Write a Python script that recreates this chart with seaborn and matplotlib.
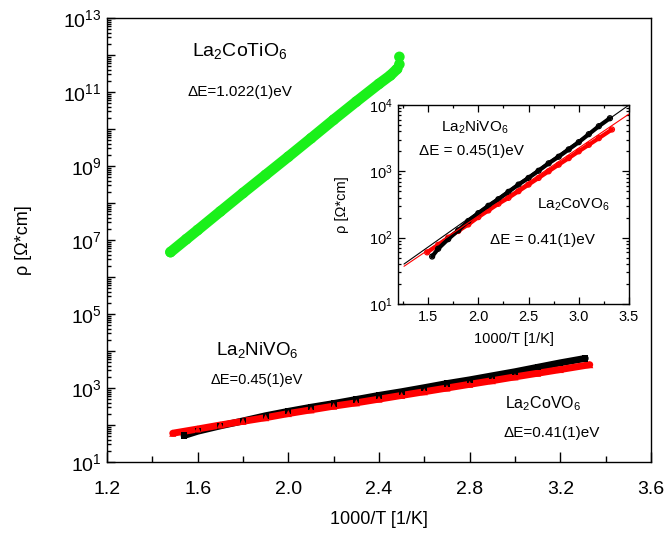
import numpy as np
import pandas as pd
import matplotlib
matplotlib.use("Agg")
import matplotlib.pyplot as plt
import seaborn as sns
from matplotlib.ticker import LogLocator, MultipleLocator, FuncFormatter, NullFormatter

# ---------------- data ----------------
# La2CoTiO6 (green)
x_ti = [1.48, 1.55, 1.60, 1.70, 1.80, 1.90, 2.00, 2.10, 2.20, 2.30, 2.40, 2.45, 2.48, 2.49, 2.49]
rho_ti = [4.7e6, 1.05e7, 1.86e7, 5.9e7, 1.86e8, 5.75e8, 1.78e9, 5.6e9, 1.78e10, 5.5e10,
          1.66e11, 2.8e11, 4.2e11, 5.6e11, 8.9e11]

# La2NiVO6 (black)
x_ni = [1.54, 1.60, 1.70, 1.80, 1.90, 2.00, 2.10, 2.20, 2.30, 2.40, 2.50, 2.60, 2.70,
        2.80, 2.90, 3.00, 3.10, 3.20, 3.31]
rho_ni = [52, 68, 95, 129, 178, 234, 302, 380, 490, 631, 794, 1020, 1320, 1660, 2140,
          2750, 3630, 4790, 6310]

# La2CoVO6 (red)
x_co = [1.49, 1.60, 1.70, 1.80, 1.90, 2.00, 2.10, 2.20, 2.30, 2.40, 2.50, 2.60, 2.70,
        2.80, 2.90, 3.00, 3.10, 3.20, 3.33]
rho_co = [60, 78, 100, 126, 158, 204, 257, 324, 398, 501, 631, 794, 1000, 1260, 1580,
          2000, 2510, 3160, 4270]

# fit lines in the inset
x_fit = [1.26, 3.50]
rho_fit_ni = [40, 10000]
rho_fit_co = [37, 7300]

main_xticks = [1.2, 1.6, 2.0, 2.4, 2.8, 3.2, 3.6]
inset_xticks = [1.5, 2.0, 2.5, 3.0, 3.5]

# ---------------- style ----------------
sns.set_style("ticks")
plt.rcParams['font.family'] = ['Liberation Sans', 'DejaVu Sans']
plt.rcParams['mathtext.fontset'] = 'custom'
plt.rcParams['mathtext.rm'] = 'Liberation Sans'
plt.rcParams['mathtext.it'] = 'Liberation Sans'
plt.rcParams['axes.edgecolor'] = 'black'
plt.rcParams['xtick.color'] = 'black'
plt.rcParams['ytick.color'] = 'black'
plt.rcParams['text.color'] = 'black'
plt.rcParams['axes.labelcolor'] = 'black'

GREEN = '#1af01a'
RED = '#ff0000'
BLACK = '#000000'

fig = plt.figure(figsize=(6.7, 5.35), dpi=100)
fig.patch.set_facecolor('white')

# ---------------- main axes ----------------
ax = fig.add_axes([0.1597, 0.1364, 0.8119, 0.830])
ax.set_yscale('log')
ax.set_xlim(1.2, 3.6)
ax.set_ylim(1e1, 1e13)

df_ti = pd.DataFrame({'x': x_ti, 'rho': rho_ti})
df_ni = pd.DataFrame({'x': x_ni, 'rho': rho_ni})
df_co = pd.DataFrame({'x': x_co, 'rho': rho_co})

sns.lineplot(data=df_ti.iloc[:13], x='x', y='rho', ax=ax, color=GREEN, lw=7.6,
             estimator=None, sort=False, solid_capstyle='round')
sns.scatterplot(data=df_ti, x='x', y='rho', ax=ax, color=GREEN, s=58,
                edgecolor='none', marker='o', zorder=3)

sns.lineplot(data=df_ni, x='x', y='rho', ax=ax, color=BLACK, lw=5.0,
             estimator=None, sort=False)
sns.scatterplot(data=df_ni, x='x', y='rho', ax=ax, color=BLACK, s=20,
                edgecolor='none', marker='s', zorder=3)
sns.lineplot(data=df_co, x='x', y='rho', ax=ax, color=RED, lw=5.0,
             estimator=None, sort=False)
sns.scatterplot(data=df_co, x='x', y='rho', ax=ax, color=RED, s=26,
                edgecolor='none', marker='^', zorder=4)

ax.xaxis.set_major_locator(plt.FixedLocator(main_xticks))
ax.xaxis.set_minor_locator(MultipleLocator(0.2))
ax.xaxis.set_major_formatter(FuncFormatter(lambda v, p: f"{v:.1f}"))
ax.yaxis.set_major_locator(LogLocator(base=10, numticks=30))
ax.yaxis.set_minor_locator(LogLocator(base=10, subs=np.arange(2, 10), numticks=300))
ax.yaxis.set_minor_formatter(NullFormatter())


def main_yfmt(v, p):
    e = int(round(np.log10(v)))
    return r'$10^{%d}$' % e if e % 2 == 1 else ''


ax.yaxis.set_major_formatter(FuncFormatter(main_yfmt))
ax.tick_params(which='both', direction='in', top=False, right=False, width=1.0)
ax.tick_params(axis='x', which='major', length=7, labelsize=14, pad=14)
ax.tick_params(axis='x', which='minor', length=4)
ax.tick_params(axis='y', which='major', length=6, labelsize=14, pad=4)
ax.tick_params(axis='y', which='minor', length=3)
for s in ax.spines.values():
    s.set_linewidth(1.0)
ax.set_xlabel('1000/T [1/K]', fontsize=13, labelpad=9)
ax.set_ylabel('ρ [Ω*cm]', fontsize=13, labelpad=22)

ax.text(1.787, 10**12.10, r'La$_2$CoTiO$_6$', fontsize=14, ha='center', va='center')
ax.text(1.787, 10**11.0, 'ΔE=1.022(1)eV', fontsize=11, ha='center', va='center')
ax.text(1.862, 10**4.03, r'La$_2$NiVO$_6$', fontsize=13.5, ha='center', va='center')
ax.text(1.86, 10**3.22, 'ΔE=0.45(1)eV', fontsize=10.5, ha='center', va='center')
ax.text(3.123, 10**2.59, r'La$_2$CoVO$_6$', fontsize=11.5, ha='center', va='center')
ax.text(3.163, 10**1.78, 'ΔE=0.41(1)eV', fontsize=11, ha='center', va='center')

# ---------------- inset ----------------
ins = fig.add_axes([0.594, 0.4318, 0.3448, 0.372])
ins.set_facecolor('white')
ins.set_yscale('log')
ins.set_xlim(1.2, 3.5)
ins.set_ylim(1e1, 1e4)

sns.lineplot(data=df_co, x='x', y='rho', ax=ins, color=RED, lw=3.0,
             estimator=None, sort=False)
sns.scatterplot(data=df_co, x='x', y='rho', ax=ins, s=13, marker='o',
                facecolor='none', edgecolor=RED, linewidth=0.9, zorder=3)
sns.lineplot(data=df_ni, x='x', y='rho', ax=ins, color=BLACK, lw=3.0,
             estimator=None, sort=False, zorder=4)
sns.scatterplot(data=df_ni, x='x', y='rho', ax=ins, s=13, marker='o',
                facecolor='none', edgecolor=BLACK, linewidth=0.9, zorder=5)
sns.lineplot(x=x_fit, y=rho_fit_ni, ax=ins, color=BLACK, lw=0.8, estimator=None, zorder=6)
sns.lineplot(x=x_fit, y=rho_fit_co, ax=ins, color=RED, lw=0.8, estimator=None, zorder=6)

ins.xaxis.set_major_locator(plt.FixedLocator(inset_xticks))
ins.xaxis.set_minor_locator(MultipleLocator(0.25))
ins.xaxis.set_major_formatter(FuncFormatter(lambda v, p: f"{v:.1f}"))
ins.yaxis.set_major_locator(LogLocator(base=10, numticks=30))
ins.yaxis.set_minor_locator(LogLocator(base=10, subs=np.arange(2, 10), numticks=300))
ins.yaxis.set_minor_formatter(NullFormatter())
ins.yaxis.set_major_formatter(FuncFormatter(lambda v, p: r'$10^{%d}$' % int(round(np.log10(v)))))
ins.tick_params(which='both', direction='in', top=True, right=True, width=0.9)
ins.tick_params(which='major', length=5, labelsize=10.5, pad=4)
ins.tick_params(which='minor', length=2.5)
for s in ins.spines.values():
    s.set_linewidth(1.0)
ins.set_xlabel('1000/T [1/K]', fontsize=10.5, labelpad=6)
ins.set_ylabel('ρ [Ω*cm]', fontsize=10.5, labelpad=14)

ins.text(1.966, 10**3.67, r'La$_2$NiVO$_6$', fontsize=11, ha='center', va='center')
ins.text(1.936, 10**3.31, 'ΔE = 0.45(1)eV', fontsize=11, ha='center', va='center')
ins.text(2.94, 10**2.49, r'La$_2$CoVO$_6$', fontsize=11, ha='center', va='center')
ins.text(2.64, 10**1.96, 'ΔE = 0.41(1)eV', fontsize=11, ha='center', va='center')

for a in (ax, ins):
    leg = a.get_legend()
    if leg is not None:
        leg.remove()

fig.savefig('out.png', dpi=100, facecolor='white')
